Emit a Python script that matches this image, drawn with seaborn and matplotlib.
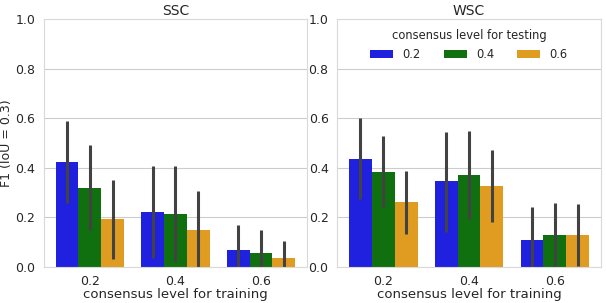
import numpy as np
import pandas as pd
import matplotlib
matplotlib.use('Agg')
import matplotlib.pyplot as plt
import seaborn as sns

# --------------
# Data
# --------------
list_train = ['0.2', '0.4', '0.6']
list_test = ['0.2', '0.4', '0.6']
list_panels = ['SSC', 'WSC']

# mean F1 per training level (rows) and testing level (columns)
ssc_mean = [[0.424, 0.319, 0.192],
            [0.223, 0.214, 0.148],
            [0.067, 0.057, 0.036]]
ssc_low = [[0.260, 0.148, 0.034],
           [0.036, 0.020, 0.000],
           [0.000, 0.000, 0.000]]
ssc_high = [[0.588, 0.491, 0.350],
            [0.408, 0.408, 0.307],
            [0.168, 0.148, 0.104]]

wsc_mean = [[0.435, 0.384, 0.261],
            [0.345, 0.371, 0.327],
            [0.108, 0.127, 0.128]]
wsc_low = [[0.273, 0.240, 0.131],
           [0.141, 0.192, 0.183],
           [0.000, 0.000, 0.004]]
wsc_high = [[0.599, 0.529, 0.389],
            [0.545, 0.548, 0.471],
            [0.240, 0.260, 0.254]]

dict_panels = {'SSC': (ssc_mean, ssc_low, ssc_high),
               'WSC': (wsc_mean, wsc_low, wsc_high)}

# --------------
# Figure
# --------------
sns.set_style('whitegrid')
plt.rcParams['font.family'] = ['DejaVu Sans']

fig = plt.figure(figsize=(6.06, 3.03), dpi=100)
ax1 = fig.add_axes([0.072, 0.119, 0.435, 0.818])
ax2 = fig.add_axes([0.556, 0.119, 0.436, 0.818])

for ax, str_panel in zip([ax1, ax2], list_panels):
    mean, low, high = dict_panels[str_panel]
    rows = []
    for i, tr in enumerate(list_train):
        for j, te in enumerate(list_test):
            rows.append({'train': tr, 'test': te, 'f1': mean[i][j]})
    df = pd.DataFrame(rows)
    sns.barplot(data=df, x='train', y='f1', hue='test',
                order=list_train, hue_order=list_test,
                palette=['blue', 'green', 'orange'], errorbar=None,
                linewidth=0, ax=ax, legend=(str_panel == 'WSC'))
    # error bars at the bar centers
    for j, container in enumerate(ax.containers):
        for i, patch in enumerate(container.patches):
            xc = patch.get_x() + patch.get_width() / 2
            ax.vlines(xc, low[i][j], high[i][j], color='.26', linewidth=2.2)
    ax.set_ylim(0, 1.0)
    ax.set_title(str_panel, fontsize=10, pad=3)
    ax.set_xlabel('consensus level for training', fontsize=9.5, labelpad=0)
    ax.tick_params(axis='x', labelsize=9, pad=2)
    ax.tick_params(axis='y', labelsize=9, pad=2.5)
    for spine in ax.spines.values():
        spine.set_color('.85')

ax1.set_ylabel('F1 (IoU = 0.3)', fontsize=9, labelpad=1.5)
ax2.set_ylabel('')

sns.move_legend(ax2, 'upper center', ncol=3, frameon=False,
                title='consensus level for testing', fontsize=8.3,
                title_fontsize=8.3)

plt.savefig('out.png', dpi=100)
plt.close()
